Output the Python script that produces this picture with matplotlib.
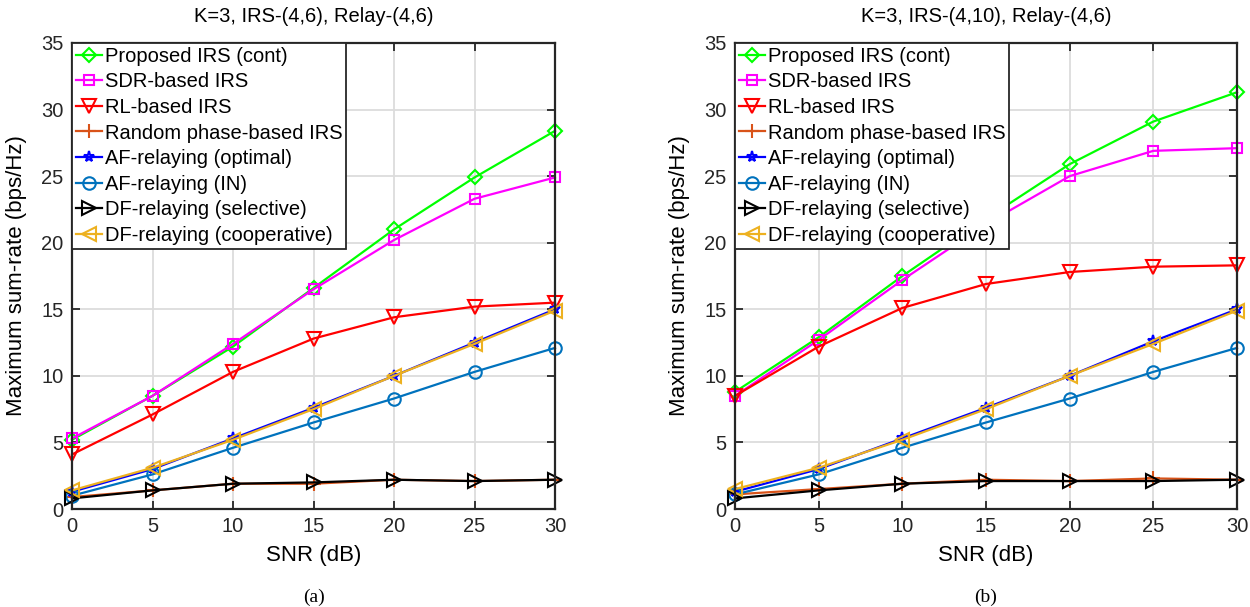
import matplotlib.pyplot as plt
import numpy as np

plt.rcParams['font.family'] = ['Liberation Sans', 'DejaVu Sans']

snr = [0, 5, 10, 15, 20, 25, 30]

labels = ['Proposed IRS (cont)', 'SDR-based IRS', 'RL-based IRS', 'Random phase-based IRS',
          'AF-relaying (optimal)', 'AF-relaying (IN)', 'DF-relaying (selective)',
          'DF-relaying (cooperative)']

# panel (a): K=3, IRS-(4,6)
prop_a = [5.2, 8.5, 12.2, 16.6, 21.0, 24.9, 28.4]
sdr_a = [5.3, 8.5, 12.4, 16.5, 20.2, 23.3, 24.9]
rl_a = [4.1, 7.1, 10.3, 12.8, 14.4, 15.2, 15.5]
rand_a = [0.9, 1.4, 1.9, 1.9, 2.2, 2.1, 2.2]
afopt_a = [1.3, 3.0, 5.3, 7.6, 10.0, 12.5, 15.0]
afin_a = [1.0, 2.6, 4.6, 6.5, 8.3, 10.3, 12.1]
dfsel_a = [0.8, 1.4, 1.9, 2.0, 2.2, 2.1, 2.2]
dfcoop_a = [1.4, 3.1, 5.2, 7.5, 10.0, 12.4, 14.9]

# panel (b): K=3, IRS-(4,10)
prop_b = [8.8, 12.9, 17.5, 21.8, 25.9, 29.1, 31.3]
sdr_b = [8.5, 12.7, 17.2, 21.4, 25.0, 26.9, 27.1]
rl_b = [8.5, 12.2, 15.1, 16.9, 17.8, 18.2, 18.3]
rand_b = [1.1, 1.5, 1.9, 2.2, 2.1, 2.3, 2.2]
afopt_b = [1.3, 3.0, 5.3, 7.6, 10.0, 12.6, 15.0]
afin_b = [1.1, 2.6, 4.6, 6.5, 8.3, 10.3, 12.1]
dfsel_b = [0.8, 1.4, 1.9, 2.1, 2.1, 2.1, 2.2]
dfcoop_b = [1.5, 3.1, 5.2, 7.5, 10.0, 12.4, 14.9]

colors = ['#00FF00', '#FF00FF', '#FF0000', '#D95319', '#0000FF', '#0072BD', '#000000', '#EDB120']
markers = ['D', 's', 'v', '+', '*', 'o', '>', '<']
msizes = [7, 7.5, 9.5, 10, 8, 9, 10, 10]


def draw(ax, series, title, tag):
    for y, lab, c, m, ms in zip(series, labels, colors, markers, msizes):
        ax.plot(snr, y, color=c, marker=m, markersize=ms, fillstyle='none',
                markeredgewidth=1.5, linewidth=1.6, label=lab, clip_on=False)
    ax.set_xlim(0, 30)
    ax.set_ylim(0, 35)
    ax.set_xticks(snr)
    ax.set_yticks(range(0, 36, 5))
    ax.grid(True, color='#dcdcdc', linewidth=1.3)
    ax.set_axisbelow(True)
    ax.tick_params(direction='in', top=True, right=True, labelsize=14.5, length=6, width=1.3,
                   colors='#262626', pad=6)
    for s in ax.spines.values():
        s.set_linewidth(1.6)
        s.set_color('#262626')
    ax.set_title(title, fontsize=14.5, pad=15)
    ax.set_xlabel('SNR (dB)', fontsize=16, labelpad=6)
    ax.set_ylabel('Maximum sum-rate (bps/Hz)', fontsize=16, labelpad=10)
    leg = ax.legend(loc='upper left', fontsize=14.5, handlelength=1.3, handletextpad=0.15,
                    borderaxespad=0, borderpad=0.18, labelspacing=0.33, fancybox=False,
                    framealpha=1, edgecolor='#262626')
    leg.get_frame().set_linewidth(1.3)
    ax.text(0.5, -0.17, tag, transform=ax.transAxes, ha='center', va='top',
            fontsize=14, family='Liberation Serif')


fig = plt.figure(figsize=(12.5, 6.07), dpi=100)
ax1 = fig.add_axes([0.0576, 0.1614, 0.3864, 0.7678])
ax2 = fig.add_axes([0.588, 0.1614, 0.4016, 0.7678])

draw(ax1, [prop_a, sdr_a, rl_a, rand_a, afopt_a, afin_a, dfsel_a, dfcoop_a],
     'K=3, IRS-(4,6), Relay-(4,6)', '(a)')
draw(ax2, [prop_b, sdr_b, rl_b, rand_b, afopt_b, afin_b, dfsel_b, dfcoop_b],
     'K=3, IRS-(4,10), Relay-(4,6)', '(b)')

fig.savefig('out.png', dpi=100)
